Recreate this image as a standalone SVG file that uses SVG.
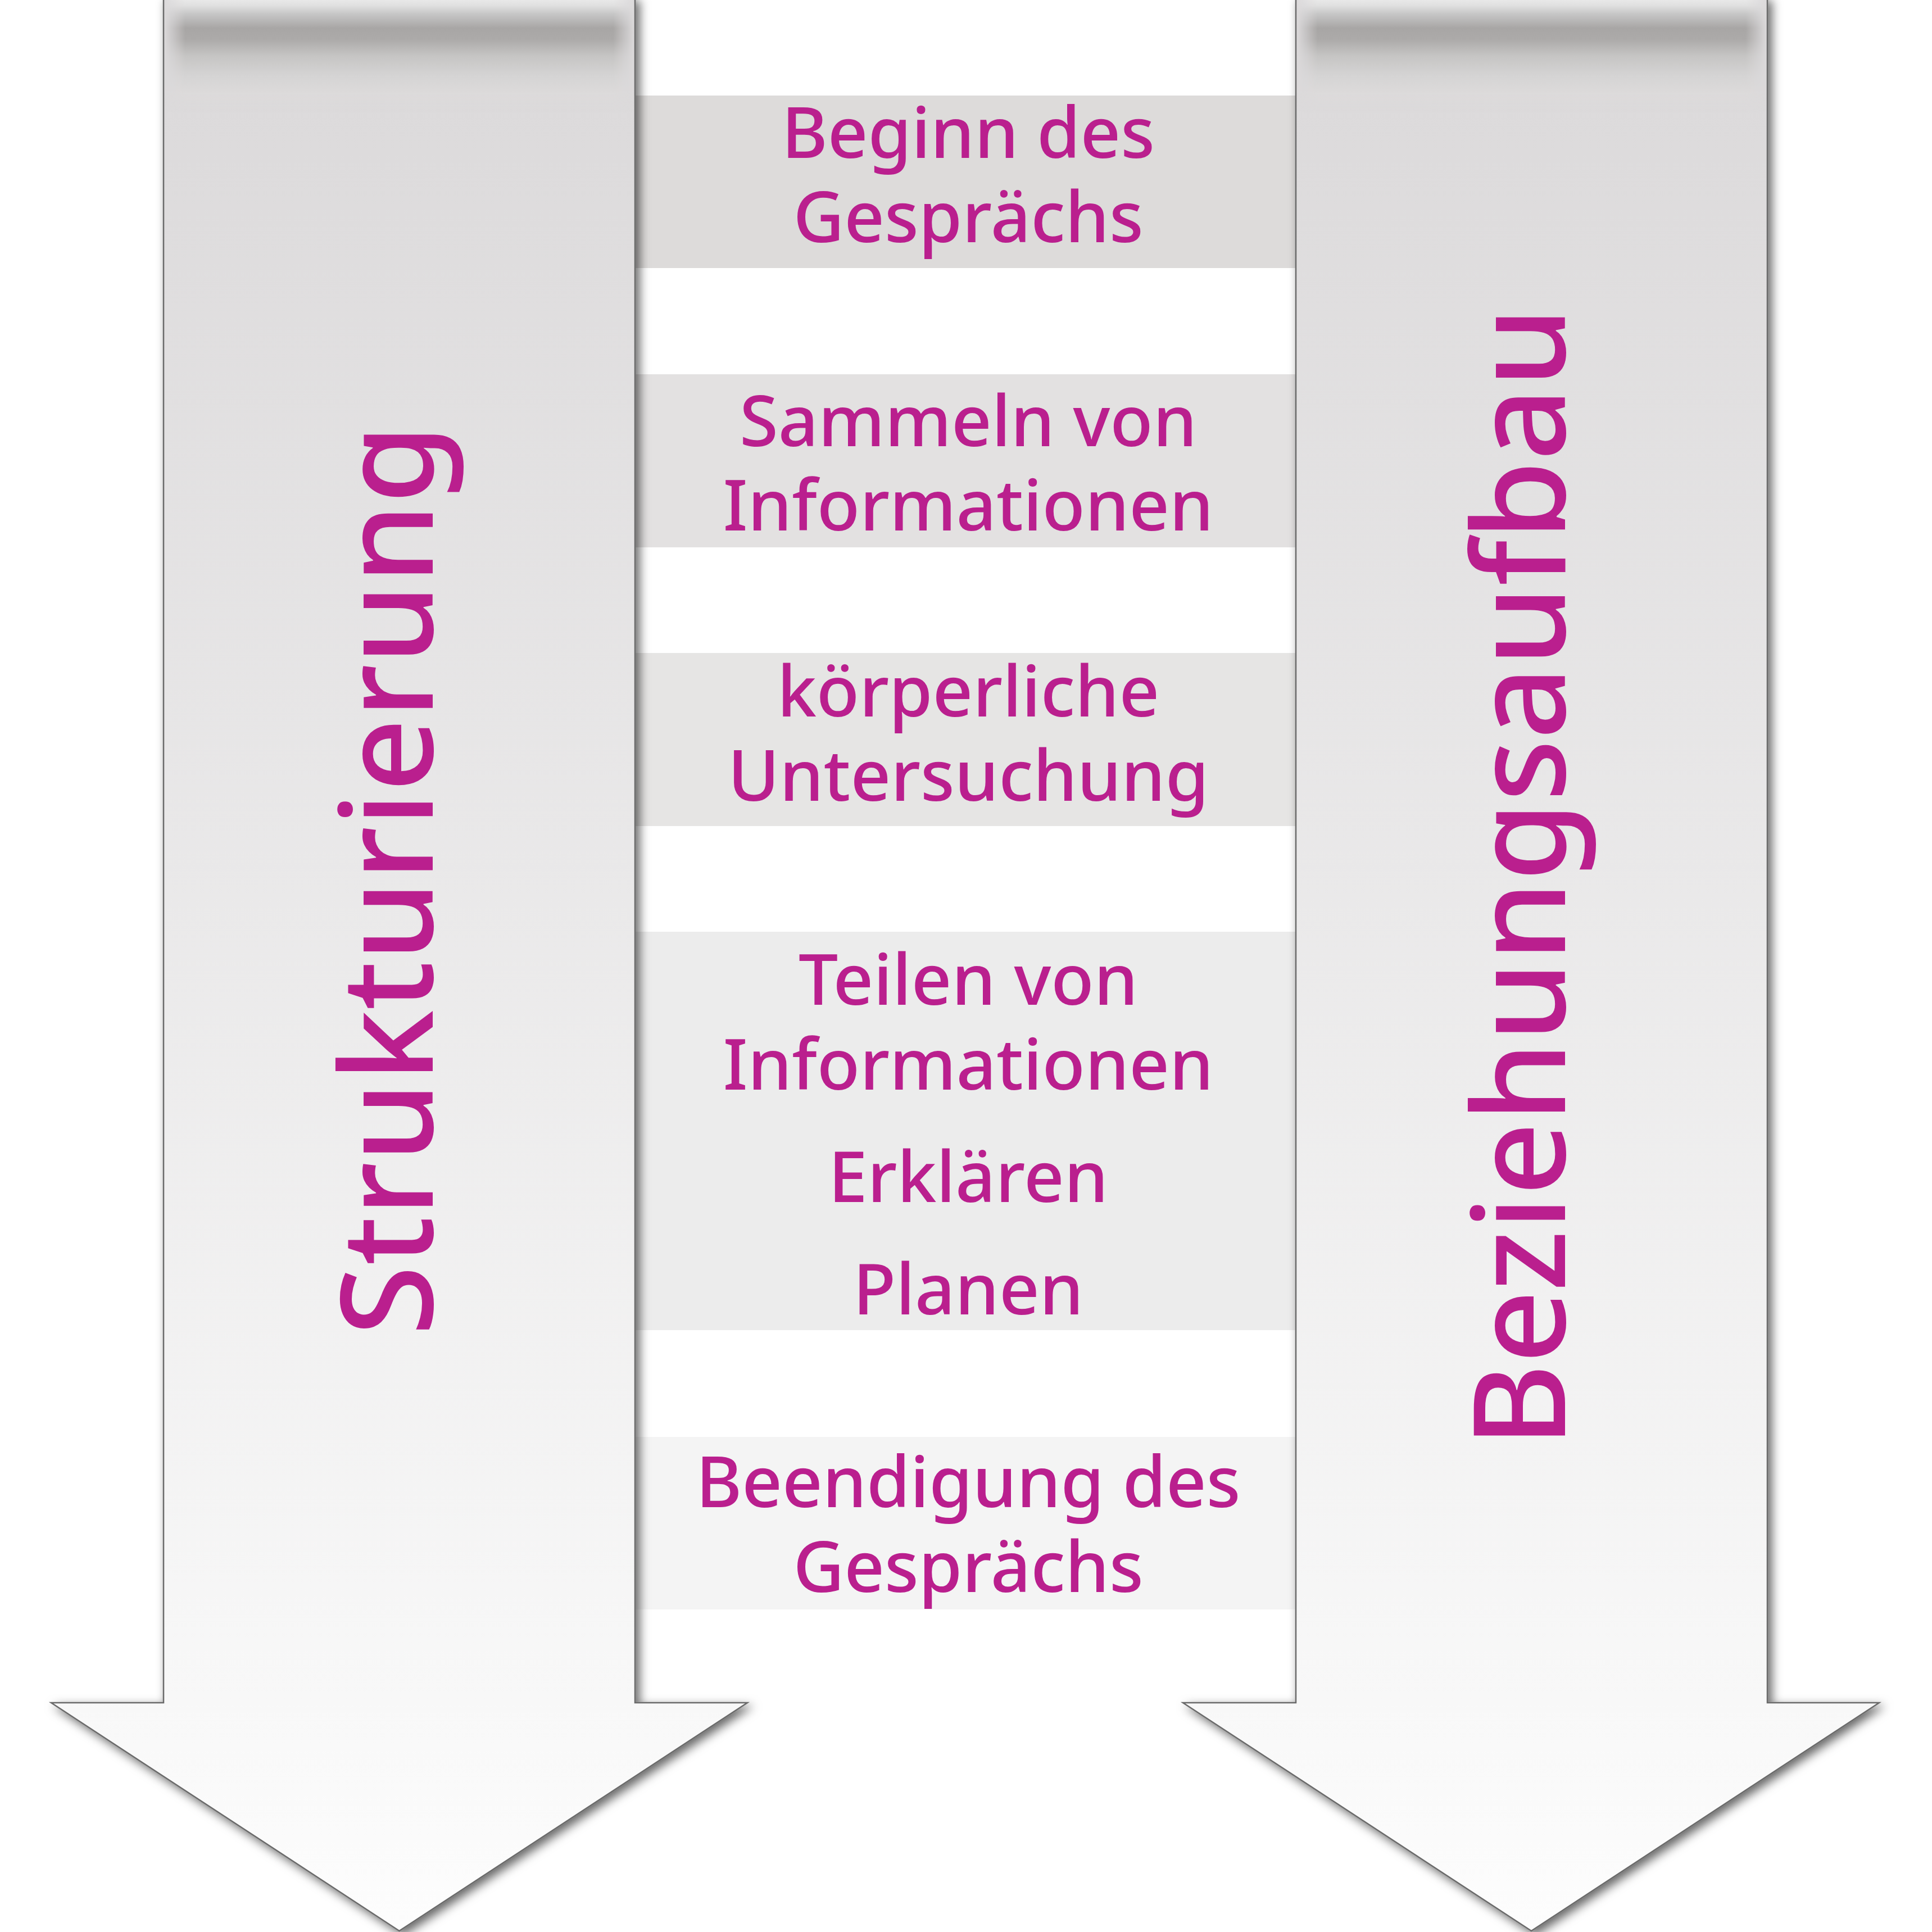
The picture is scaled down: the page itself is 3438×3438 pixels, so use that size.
<svg xmlns="http://www.w3.org/2000/svg" width="3438" height="3438" viewBox="0 0 3438 3438">
  <style>
    .band-text { font-family: "Noto Sans", "Open Sans", sans-serif; font-size: 125px; font-weight: 500; fill: #ba1f8e; text-anchor: middle; }
    .arrow-text { font-family: "Noto Sans", "Open Sans", sans-serif; font-size: 228px; font-weight: 500; fill: #ba1f8e; text-anchor: middle; }
    .arrow-shape { fill: url(#arrowFill); stroke: #6a6a6a; stroke-width: 2.5; stroke-linejoin: miter; }
    .top-shade { fill: url(#topShade); }
  </style>
  <defs>
    <linearGradient id="arrowFill" gradientUnits="userSpaceOnUse" x1="0" y1="0" x2="0" y2="3436">
      <stop offset="0" stop-color="#dcdadb"/>
      <stop offset="0.05" stop-color="#dcdadb"/>
      <stop offset="0.88" stop-color="#f8f8f8"/>
      <stop offset="1" stop-color="#fdfdfd"/>
    </linearGradient>
    <linearGradient id="topShade" gradientUnits="userSpaceOnUse" x1="0" y1="0" x2="0" y2="200">
      <stop offset="0" stop-color="#e8e8e8"/>
      <stop offset="0.05" stop-color="#e0e0e0"/>
      <stop offset="0.125" stop-color="#c6c6c6"/>
      <stop offset="0.25" stop-color="#a8a6a5"/>
      <stop offset="0.35" stop-color="#acaaa9"/>
      <stop offset="0.5" stop-color="#c6c5c4"/>
      <stop offset="0.675" stop-color="#d5d4d4"/>
      <stop offset="0.825" stop-color="#dcdada"/>
      <stop offset="1" stop-color="#dcdadb" stop-opacity="0"/>
    </linearGradient>
    <linearGradient id="hfade" x1="0" y1="0" x2="1" y2="0">
      <stop offset="0" stop-color="#000"/>
      <stop offset="0.045" stop-color="#fff"/>
      <stop offset="0.955" stop-color="#fff"/>
      <stop offset="1" stop-color="#000"/>
    </linearGradient>
    <mask id="edgeFade" maskContentUnits="objectBoundingBox" x="0" y="0" width="1" height="1">
      <rect x="0" y="0" width="1" height="1" fill="url(#hfade)"/>
    </mask>
    <filter id="shadow" x="-10%" y="-5%" width="125%" height="115%">
      <feDropShadow dx="7" dy="7" stdDeviation="9" flood-color="#000" flood-opacity="0.6"/>
    </filter>
  </defs>

  <rect x="0" y="0" width="3438" height="3438" fill="#ffffff"/>

  <g id="band-1">
    <rect x="1130" y="170" width="1176" height="307" fill="#dddbda"/>
    <text class="band-text" x="1723" y="281">Beginn des</text>
    <text class="band-text" x="1723" y="431">Gesprächs</text>
  </g>
  <g id="band-2">
    <rect x="1130" y="666" width="1176" height="308" fill="#e3e1e1"/>
    <text class="band-text" x="1723" y="794">Sammeln von</text>
    <text class="band-text" x="1723" y="944">Informationen</text>
  </g>
  <g id="band-3">
    <rect x="1130" y="1162" width="1176" height="308" fill="#e6e5e4"/>
    <text class="band-text" x="1723" y="1275">körperliche</text>
    <text class="band-text" x="1723" y="1425">Untersuchung</text>
  </g>
  <g id="band-4">
    <rect x="1130" y="1658" width="1176" height="709" fill="#ececec"/>
    <text class="band-text" x="1723" y="1788">Teilen von</text>
    <text class="band-text" x="1723" y="1939">Informationen</text>
    <text class="band-text" x="1723" y="2139">Erklären</text>
    <text class="band-text" x="1723" y="2339">Planen</text>
  </g>
  <g id="band-5">
    <rect x="1130" y="2557" width="1176" height="307" fill="#f4f4f4"/>
    <text class="band-text" x="1723" y="2682">Beendigung des</text>
    <text class="band-text" x="1723" y="2833">Gesprächs</text>
  </g>

  <g id="arrow-left">
    <g filter="url(#shadow)">
      <path class="arrow-shape" d="M291,-5 L1130,-5 L1130,3030 L1330,3030 L710.5,3436 L91,3030 L291,3030 Z"/>
    </g>
    <rect class="top-shade" x="292" y="0" width="837" height="200" mask="url(#edgeFade)"/>
    <text class="arrow-text" transform="translate(770 1566) rotate(-90)">Strukturierung</text>
  </g>

  <g id="arrow-right">
    <g filter="url(#shadow)">
      <path class="arrow-shape" d="M2306,-5 L3145,-5 L3145,3030 L3344,3030 L2725,3436 L2105,3030 L2306,3030 Z"/>
    </g>
    <rect class="top-shade" x="2307" y="0" width="837" height="200" mask="url(#edgeFade)"/>
    <text class="arrow-text" transform="translate(2785 1561) rotate(-90)">Beziehungsaufbau</text>
  </g>

  <g id="connectors"/>
</svg>
